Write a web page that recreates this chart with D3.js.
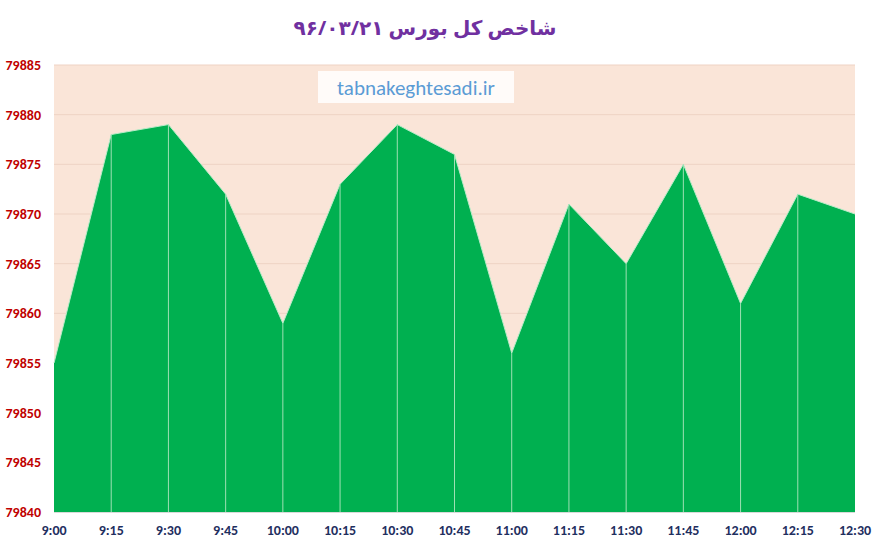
<!DOCTYPE html>
<html lang="fa">
<head>
    <meta charset="UTF-8">
    <title>شاخص کل بورس</title>
    <style>
        body { margin: 0; background: #fff; }
        svg { display: block; }
        .ylab { font-family: Calibri, Carlito, "Liberation Sans", sans-serif; font-size: 14px; font-weight: bold; fill: #c00000; }
        .xlab { font-family: Calibri, Carlito, "Liberation Sans", sans-serif; font-size: 14px; font-weight: bold; fill: #1f2f5f; }
        .title { font-family: "Noto Sans", "DejaVu Sans", sans-serif; font-size: 20px; font-weight: bold; fill: #7030a0; }
    </style>
    <script src="https://d3js.org/d3.v7.min.js"></script>
</head>
<body>
<svg></svg>
<script>
    const times = ["9:00", "9:15", "9:30", "9:45", "10:00", "10:15", "10:30", "10:45",
                   "11:00", "11:15", "11:30", "11:45", "12:00", "12:15", "12:30"];
    const values = [79855, 79878, 79879, 79872, 79859, 79873, 79879, 79876,
                    79856, 79871, 79865, 79875, 79861, 79872, 79870];
    const yTicks = [79840, 79845, 79850, 79855, 79860, 79865, 79870, 79875, 79880, 79885];
    const titleText = "شاخص کل بورس ۹۶/۰۳/۲۱";
    const watermark = "tabnakeghtesadi.ir";

    const width = 879, height = 544;
    const margin = { top: 65, right: 24, bottom: 32, left: 54 };
    const svg = d3.select("svg").attr("width", width).attr("height", height);

    const x = d3.scalePoint().domain(times).range([margin.left, width - margin.right]);
    const y = d3.scaleLinear().domain([79840, 79885]).range([height - margin.bottom, margin.top]);

    // plot background
    svg.append("rect")
        .attr("x", margin.left).attr("y", margin.top)
        .attr("width", width - margin.left - margin.right)
        .attr("height", height - margin.top - margin.bottom)
        .attr("fill", "#fae5d8");

    // gridlines
    svg.append("g")
        .selectAll("line")
        .data(yTicks.slice(1))
        .enter().append("line")
        .attr("x1", margin.left).attr("x2", width - margin.right)
        .attr("y1", d => y(d)).attr("y2", d => y(d))
        .attr("stroke", "#eed3c4").attr("stroke-width", 1);

    const data = times.map((t, i) => ({ t, v: values[i] }));

    const area = d3.area()
        .x(d => x(d.t))
        .y0(y(79840))
        .y1(d => y(d.v));

    svg.append("path")
        .datum(data)
        .attr("d", area)
        .attr("fill", "#00b050");

    // top edge
    svg.append("path")
        .datum(data)
        .attr("d", d3.line().x(d => x(d.t)).y(d => y(d.v)))
        .attr("fill", "none")
        .attr("stroke", "#b9ecc9")
        .attr("stroke-width", 1);

    // drop lines
    svg.append("g")
        .selectAll("line")
        .data(data.slice(1, -1))
        .enter().append("line")
        .attr("x1", d => x(d.t)).attr("x2", d => x(d.t))
        .attr("y1", d => y(d.v)).attr("y2", y(79840))
        .attr("stroke", "#9ee0b4").attr("stroke-width", 1);

    // baseline
    svg.append("line")
        .attr("x1", margin.left).attr("x2", width - margin.right)
        .attr("y1", y(79840) + 0.5).attr("y2", y(79840) + 0.5)
        .attr("stroke", "#d9d9d9");

    // y labels
    svg.append("g")
        .selectAll("text")
        .data(yTicks)
        .enter().append("text")
        .attr("class", "ylab")
        .attr("x", 41).attr("y", d => y(d))
        .attr("text-anchor", "end")
        .attr("dy", "0.35em")
        .text(d => d);

    // x labels
    svg.append("g")
        .selectAll("text")
        .data(times)
        .enter().append("text")
        .attr("class", "xlab")
        .attr("x", d => x(d)).attr("y", height - 9)
        .attr("text-anchor", "middle")
        .text(d => d);

    // title
    svg.append("text")
        .attr("class", "title")
        .attr("x", 425).attr("y", 35)
        .attr("text-anchor", "middle")
        .attr("direction", "rtl")
        .text(titleText);

    // watermark
    svg.append("rect")
        .attr("x", 318).attr("y", 71).attr("width", 196).attr("height", 32)
        .attr("fill", "#fff").attr("opacity", 0.85);
    svg.append("text")
        .attr("x", 416).attr("y", 95)
        .attr("text-anchor", "middle")
        .attr("font-family", "Calibri, Carlito, 'Open Sans', sans-serif")
        .attr("font-size", 21)
        .attr("fill", "#5b9bd5")
        .text(watermark);
</script>
</body>
</html>
